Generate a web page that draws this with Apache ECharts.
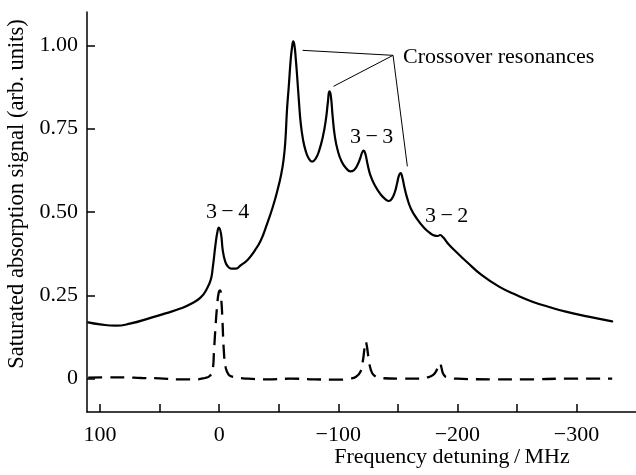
<!DOCTYPE html>
<html><head><meta charset="utf-8">
<script src="https://cdn.jsdelivr.net/npm/echarts@6/dist/echarts.min.js"></script>
<style>html,body{margin:0;padding:0;background:#fff}#c{width:636px;height:475px}</style>
</head><body><div id="c"></div>
<script>
// Solid curve: saturated absorption signal
const solidX = [110, 100, 87, 75, 57, 45, 32, 24, 15.5, 10, 7, 5.5, 3, 1.5, 0.3, -1.5, -3, -5, -7, -10, -14, -18, -24, -30, -35, -40, -45, -49, -52, -54, -55.5, -57, -58.5, -60, -61.2, -62.2, -63.2, -64.3, -65.5, -67, -68.5, -70.5, -72.5, -75, -78, -81, -84, -87, -89.5, -91.3, -92.5, -93.7, -95.2, -97, -99.5, -103, -107, -110, -113, -116, -118.5, -120, -121.3, -122.7, -124.5, -127, -131, -136, -140, -142.5, -145, -147.5, -149.5, -151, -152.3, -153.7, -155.5, -158, -161, -166, -172, -177, -181, -183.5, -185.5, -188, -193, -200, -208, -220, -235, -250, -263, -277, -291, -310, -330];
const solidY = [0.169, 0.163, 0.159, 0.165, 0.183, 0.196, 0.211, 0.224, 0.244, 0.272, 0.298, 0.33, 0.405, 0.44, 0.453, 0.435, 0.385, 0.352, 0.338, 0.330, 0.330, 0.340, 0.357, 0.385, 0.415, 0.462, 0.515, 0.566, 0.612, 0.655, 0.71, 0.81, 0.88, 0.955, 0.995, 1.012, 1.000, 0.960, 0.905, 0.830, 0.765, 0.715, 0.685, 0.662, 0.651, 0.660, 0.685, 0.725, 0.775, 0.830, 0.862, 0.850, 0.790, 0.730, 0.685, 0.650, 0.630, 0.622, 0.625, 0.640, 0.662, 0.678, 0.684, 0.675, 0.645, 0.610, 0.578, 0.551, 0.537, 0.533, 0.540, 0.560, 0.588, 0.610, 0.617, 0.605, 0.575, 0.540, 0.510, 0.480, 0.453, 0.437, 0.429, 0.428, 0.431, 0.424, 0.402, 0.377, 0.350, 0.312, 0.276, 0.250, 0.231, 0.215, 0.201, 0.186, 0.172];

// Dashed curve: Doppler-free reference
const dashX = [110, 95, 80, 65, 50, 35, 20, 12, 8, 5.5, 4.3, 3, 1.5, 0.4, -0.7, -1.8, -2.7, -4, -5.5, -8, -12, -20, -40, -60, -80, -100, -110, -115, -118.5, -120.5, -122, -123, -124, -125.5, -127.5, -130, -135, -150, -165, -175, -180, -182.5, -184.5, -185.5, -186.5, -188.5, -192, -200, -230, -260, -290, -330];
const dashY = [0.003, 0.004, 0.004, 0.002, 0.001, -0.002, -0.002, 0.002, 0.008, 0.025, 0.087, 0.16, 0.228, 0.258, 0.265, 0.235, 0.177, 0.078, 0.033, 0.012, 0.005, 0.001, -0.002, 0.0, -0.002, -0.003, 0.0, 0.006, 0.02, 0.05, 0.09, 0.111, 0.098, 0.06, 0.025, 0.01, 0.002, 0.0, 0.0, 0.004, 0.012, 0.025, 0.042, 0.046, 0.035, 0.012, 0.003, 0.0, -0.002, -0.002, 0.0, 0.0];

const xTickValues = [100, 50, 0, -50, -100, -150, -200, -250, -300];
const xLabelValues = [100, 0, -100, -200, -300];
const yTickValues = [0, 0.25, 0.5, 0.75, 1.0];
const yTickLabels = {"0": "0", "0.25": "0.25", "0.5": "0.50", "0.75": "0.75", "1": "1.00"};

const xAxisName = "Frequency detuning\u2009/\u2009MHz";
const yAxisName = "Saturated absorption signal (arb. units)";
const peakLabels = [
  {text: "3\u2009\u2212\u20094", at: [-7, 0.50]},
  {text: "3\u2009\u2212\u20093", at: [-128, 0.724]},
  {text: "3\u2009\u2212\u20092", at: [-191, 0.486]}
];
const crossoverText = "Crossover resonances";
const crossoverApex = [-146, 0.97];
const crossoverTargets = [[-70, 0.985], [-96, 0.877], [-158, 0.637]];

const FONT = "'Liberation Serif', 'Times New Roman', serif";
const minus = v => v < 0 ? "\u2212" + (-v) : String(v);

const chart = echarts.init(document.getElementById('c'), null, {renderer: 'canvas'});
const solidData = solidX.map((x, i) => [x, solidY[i]]);
const dashData = dashX.map((x, i) => [x, dashY[i]]);

chart.setOption({
  animation: false,
  backgroundColor: '#fff',
  grid: {left: 87, right: 0, top: 12, bottom: 63, containLabel: false},
  xAxis: {
    type: 'value', min: -350, max: 111, inverse: true,
    splitLine: {show: false},
    axisLine: {onZero: false, lineStyle: {color: '#000', width: 1.5}},
    axisTick: {inside: true, length: 8, lineStyle: {color: '#000', width: 1.5}, customValues: xTickValues},
    axisLabel: {color: '#000', fontFamily: FONT, fontSize: 22, margin: 12, customValues: xLabelValues, formatter: v => minus(v)}
  },
  yAxis: {
    type: 'value', min: -0.1, max: 1.1,
    splitLine: {show: false},
    axisLine: {onZero: false, lineStyle: {color: '#000', width: 1.5}},
    axisTick: {inside: true, length: 8, lineStyle: {color: '#000', width: 1.5}, customValues: yTickValues},
    axisLabel: {color: '#000', fontFamily: FONT, fontSize: 22, margin: 9, customValues: yTickValues, formatter: v => yTickLabels[String(+v.toFixed(2))] || String(v)}
  },
  series: [
    {type: 'line', data: solidData, smooth: 0.5, showSymbol: false, symbol: 'none', sampling: null,
      lineStyle: {color: '#000', width: 2.2, join: 'round', cap: 'round'},
      markLine: {silent: true, symbol: 'none', label: {show: false},
        lineStyle: {color: '#000', width: 1, type: 'solid'},
        data: crossoverTargets.map(t => [{coord: crossoverApex}, {coord: t}])}
    },
    {type: 'line', data: dashData, smooth: 0.5, showSymbol: false, symbol: 'none',
      lineStyle: {color: '#000', width: 2.3, type: [14, 8]}}
  ]
});

const g = [];
peakLabels.forEach(p => {
  const pt = chart.convertToPixel({gridIndex: 0}, p.at);
  g.push({type: 'text', x: pt[0], y: pt[1], style: {text: p.text, font: "22px " + FONT, fill: '#000', align: 'center', verticalAlign: 'middle'}});
});
const ap = chart.convertToPixel({gridIndex: 0}, crossoverApex);
g.push({type: 'text', x: ap[0] + 10, y: ap[1] + 2, style: {text: crossoverText, font: "22px " + FONT, fill: '#000', align: 'left', verticalAlign: 'middle'}});
g.push({type: 'text', x: 452, y: 457, style: {text: xAxisName, font: "22px " + FONT, fill: '#000', align: 'center', verticalAlign: 'middle'}});
g.push({type: 'text', x: 17, y: 194, rotation: Math.PI / 2, style: {text: yAxisName, font: "22.5px " + FONT, fill: '#000', align: 'center', verticalAlign: 'middle'}});
chart.setOption({graphic: g});
</script></body></html>
